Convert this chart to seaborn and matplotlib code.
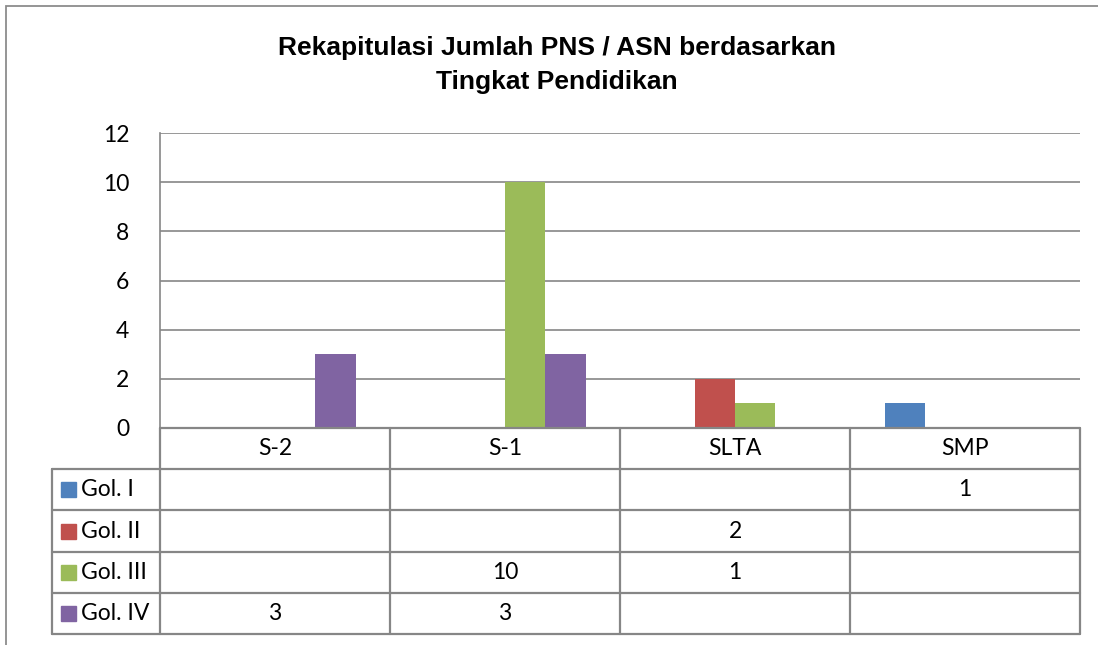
import numpy as np
import pandas as pd
import seaborn as sns
import matplotlib.pyplot as plt
from matplotlib.patches import Rectangle

categories = ['S-2', 'S-1', 'SLTA', 'SMP']
series = ['Gol. I', 'Gol. II', 'Gol. III', 'Gol. IV']
gol_1 = [0, 0, 0, 1]
gol_2 = [0, 0, 2, 0]
gol_3 = [0, 10, 1, 0]
gol_4 = [3, 3, 0, 0]
colors = ['#4F81BD', '#C0504D', '#9BBB59', '#8064A2']
yticks = [0, 2, 4, 6, 8, 10, 12]

values = [gol_1, gol_2, gol_3, gol_4]
rows = []
for name, vals in zip(series, values):
    for cat, v in zip(categories, vals):
        rows.append({'cat': cat, 'gol': name, 'val': v})
df = pd.DataFrame(rows)

W, H = 1098, 645
sns.set_style('white')
plt.rcParams['font.family'] = ['Lato', 'DejaVu Sans']
plt.rcParams['text.color'] = 'black'
plt.rcParams['ytick.color'] = 'black'
grid_c = '#868686'
fs = 16.5

fig = plt.figure(figsize=(W / 100, H / 100), dpi=100)


def fig_box(x0, y0, x1, y1):
    return [x0 / W, 1 - y1 / H, (x1 - x0) / W, (y1 - y0) / H]


# outer chart border
fig.patches.append(Rectangle((6 / W, -0.1), 1.2, 1 - 6 / H + 0.1, transform=fig.transFigure,
                             fill=False, edgecolor='#8c8c8c', linewidth=1.3))

px0, px1, py0, py1 = 160, 1080, 133, 428
ax = fig.add_axes(fig_box(px0, py0, px1, py1))
sns.barplot(data=df, x='cat', y='val', hue='gol', hue_order=series, order=categories,
            palette=colors, width=0.7, saturation=1, errorbar=None, linewidth=0,
            legend=False, ax=ax)
ax.set_ylim(0, 12)
ax.set_xlim(-0.5, len(categories) - 0.5)
ax.set_yticks(yticks)
ax.set_xticks([])
ax.set_xlabel('')
ax.set_ylabel('')
ax.yaxis.grid(True, color=grid_c, linewidth=1.2)
ax.set_axisbelow(True)
ax.tick_params(axis='y', length=0, pad=22, labelsize=fs, labelcolor='black')
for s in ['top', 'right', 'bottom']:
    ax.spines[s].set_visible(False)
ax.spines['left'].set_color(grid_c)
ax.spines['left'].set_linewidth(1.2)

# data table
tx0, ty0, ty1 = 52, 428, 634
tab = fig.add_axes(fig_box(tx0, ty0, px1, ty1))
tab.set_xlim(tx0, px1)
tab.set_ylim(ty1, ty0)
tab.axis('off')
n = len(categories)
colw = (px1 - px0) / n
rowh = (ty1 - ty0) / (len(series) + 1)
lw = 1.6
tab.plot([px0, px1], [ty0, ty0], color=grid_c, lw=lw, clip_on=False)
for r in range(1, len(series) + 2):
    y = ty0 + r * rowh
    tab.plot([tx0, px1], [y, y], color=grid_c, lw=lw, clip_on=False)
for c in range(n + 1):
    x = px0 + c * colw
    tab.plot([x, x], [ty0, ty1], color=grid_c, lw=lw, clip_on=False)
tab.plot([tx0, tx0], [ty0 + rowh, ty1], color=grid_c, lw=lw, clip_on=False)

for c, cat in enumerate(categories):
    tab.text(px0 + (c + 0.5) * colw, ty0 + rowh / 2, cat, ha='center', va='center', fontsize=fs)
for r, (name, vals, col) in enumerate(zip(series, values, colors)):
    yc = ty0 + (r + 1.5) * rowh
    tab.add_patch(Rectangle((61, yc - 7.5), 15, 15, color=col, clip_on=False))
    tab.text(81, yc, name, ha='left', va='center', fontsize=fs)
    for c, v in enumerate(vals):
        if v:
            tab.text(px0 + (c + 0.5) * colw, yc, str(v), ha='center', va='center', fontsize=fs)

fig.text(557 / W, 1 - 65 / H, 'Rekapitulasi Jumlah PNS / ASN berdasarkan\nTingkat Pendidikan',
         ha='center', va='center', fontsize=19, fontweight='bold', linespacing=1.5,
         color='black', family=['Liberation Sans Narrow', 'Liberation Sans', 'DejaVu Sans'])

fig.savefig('out.png', dpi=100)
